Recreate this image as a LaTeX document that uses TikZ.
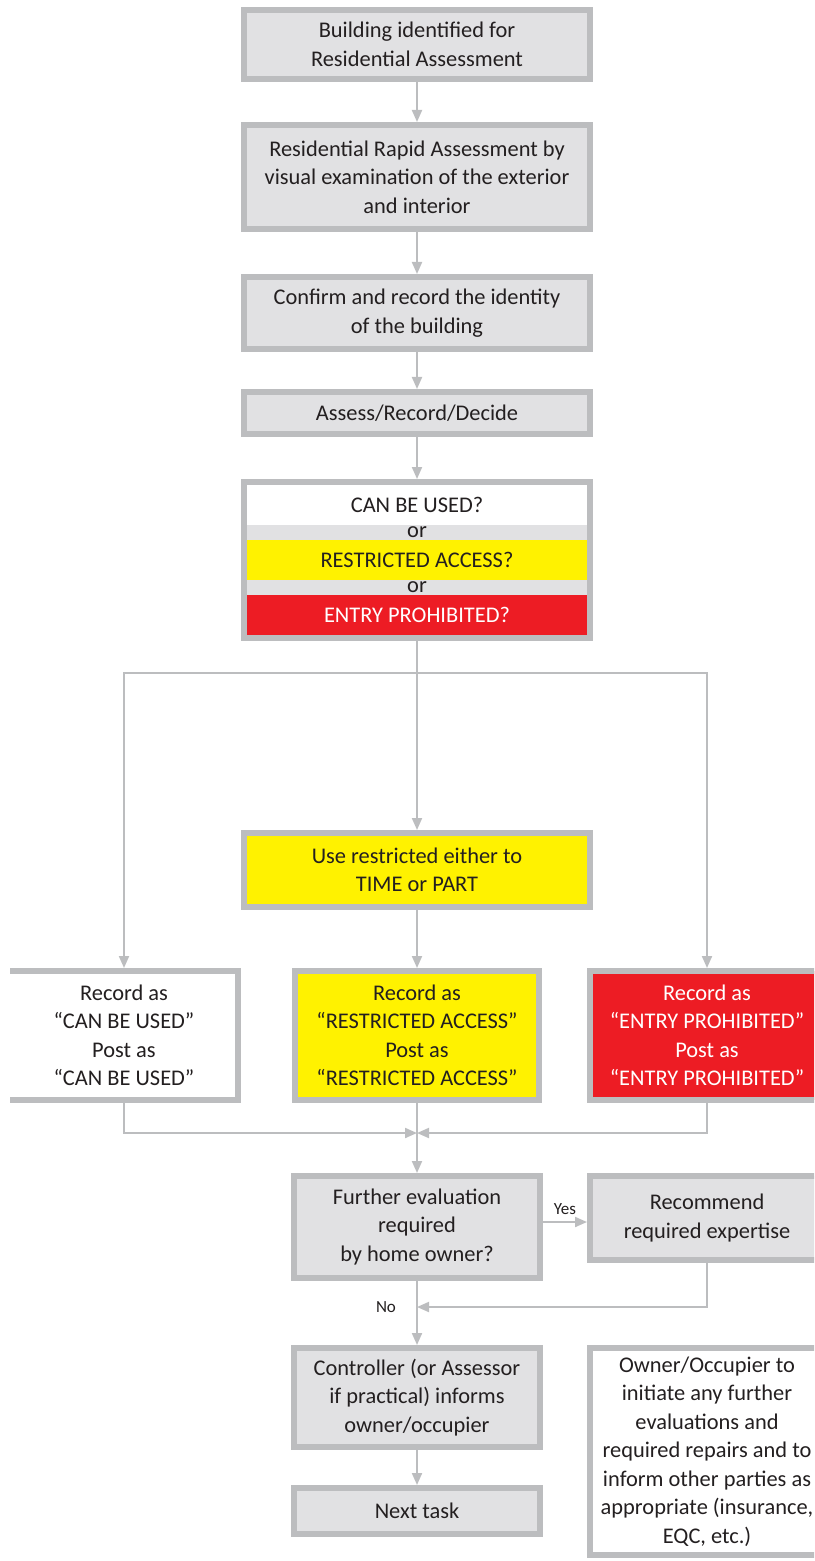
\documentclass[tikz,border=0pt]{standalone}
\usepackage{fontspec}
\setmainfont{Carlito}
\usetikzlibrary{positioning,arrows.meta}
\definecolor{framegray}{HTML}{BCBDBF}
\definecolor{boxgray}{HTML}{E1E1E3}
\definecolor{signyellow}{HTML}{FFF200}
\definecolor{signred}{HTML}{ED1C24}
\definecolor{inkgray}{HTML}{231F20}

\begin{document}
\begin{tikzpicture}[-{Triangle[length=6pt,width=5pt]}, auto, font=\fontsize{11.2pt}{14.25pt}\selectfont,
	procbox/.style={rectangle, draw=framegray, line width=3pt, fill=boxgray, text=inkgray, align=center, minimum width=173pt, inner sep=2pt},
	band/.style={rectangle, minimum width=170pt, minimum height=20pt, inner sep=0pt, outer sep=0pt, text=inkgray},
	orrow/.style={minimum height=7.5pt, inner sep=0pt, outer sep=0pt, text=inkgray},
	flow/.style={draw=framegray, line width=1pt},
	lbl/.style={font=\fontsize{8.5pt}{10pt}\selectfont, text=inkgray}]
	\useasboundingbox (0,0) rectangle (407pt,-780.5pt);
	\clip (0,0) rectangle (407pt,-780.5pt);
	\node[procbox, minimum height=34.5pt] (ident) at (208.5pt,-22.25pt) {Building identified for\\Residential Assessment};
	\node[procbox, minimum height=52pt] (rapid) [below=20pt of ident] {Residential Rapid Assessment by\\visual examination of the exterior\\and interior};
	\node[procbox, minimum height=36pt] (confirm) [below=21pt of rapid] {Confirm and record the identity\\of the building};
	\node[procbox, minimum height=21pt] (assess) [below=18.5pt of confirm] {Assess/Record/Decide};
	\node[procbox, minimum height=78pt] (decide) [below=21pt of assess] {};
	\node[band, fill=white] (canuse) [below=3pt of decide.north] {CAN BE USED?};
	\node[orrow] (or1) [below=0pt of canuse] {or};
	\node[band, fill=signyellow] (restr) [below=0pt of or1] {RESTRICTED ACCESS?};
	\node[orrow] (or2) [below=0pt of restr] {or};
	\node[band, fill=signred, text=white] (prohib) [below=0pt of or2] {ENTRY PROHIBITED?};
	\coordinate[below=16pt of decide] (split);
	\node[procbox, fill=signyellow, minimum height=37pt] (use) [below=94.5pt of decide] {Use restricted either to\\TIME or PART};
	\node[procbox, fill=signyellow, minimum width=122pt, minimum height=64.5pt] (recM) [below=29pt of use] {Record as\\“RESTRICTED ACCESS”\\Post as\\“RESTRICTED ACCESS”};
	\node[procbox, fill=white, draw=none, outer sep=0pt, minimum width=114pt, minimum height=64.5pt] (recL) at ([xshift=-146.5pt]recM) {Record as\\“CAN BE USED”\\Post as\\“CAN BE USED”};
	\node[procbox, fill=signred, text=white, minimum width=117pt, minimum height=64.5pt] (recR) at ([xshift=145pt]recM) {Record as\\“ENTRY PROHIBITED”\\Post as\\“ENTRY PROHIBITED”};
	\draw[-, draw=framegray, line width=3pt] (recL.north west) -| (recL.south east) -- (recL.south west);
	\coordinate[below=15pt of recM] (merge);
	\node[procbox, minimum width=123pt, minimum height=51pt] (further) [below=35pt of recM] {Further evaluation\\required\\by home owner?};
	\node[procbox, minimum width=117pt, minimum height=42pt, anchor=north] (recom) at (further.north -| recR) {Recommend\\required expertise};
	\coordinate[below=13pt of further] (join);
	\node[procbox, minimum width=123pt, minimum height=49.5pt] (ctrl) [below=32pt of further] {Controller (or Assessor\\if practical) informs\\owner/occupier};
	\node[procbox, minimum width=123pt, minimum height=23pt] (next) [below=17.5pt of ctrl] {Next task};
	\node[procbox, fill=white, minimum width=117pt, minimum height=103.5pt, anchor=north] (owner) at (ctrl.north -| recR) {Owner/Occupier to\\initiate any further\\evaluations and\\required repairs and to\\inform other parties as\\appropriate (insurance,\\EQC, etc.)};
	\draw[flow] (ident) -- (rapid);
	\draw[flow] (rapid) -- (confirm);
	\draw[flow] (confirm) -- (assess);
	\draw[flow] (assess) -- (decide);
	\draw[flow] (decide) -- (use);
	\draw[flow] (split) -| ([yshift=1.5pt]recL.north);
	\draw[flow] (split) -| (recR);
	\draw[flow] (use) -- (recM);
	\draw[flow] (recM) -- (further);
	\draw[flow] ([yshift=-1.5pt]recL.south) |- (merge);
	\draw[flow] (recR) |- (merge);
	\draw[flow] ([yshift=2.5pt]further.east) -- ([yshift=2.5pt]further.east -| recom.west) node[lbl, midway, above] {Yes};
	\draw[flow] (recom) |- (join);
	\node[lbl] (no) [left=7pt of join] {No};
	\draw[flow] (further) -- (ctrl);
	\draw[flow] (ctrl) -- (next);
\end{tikzpicture}
\end{document}
